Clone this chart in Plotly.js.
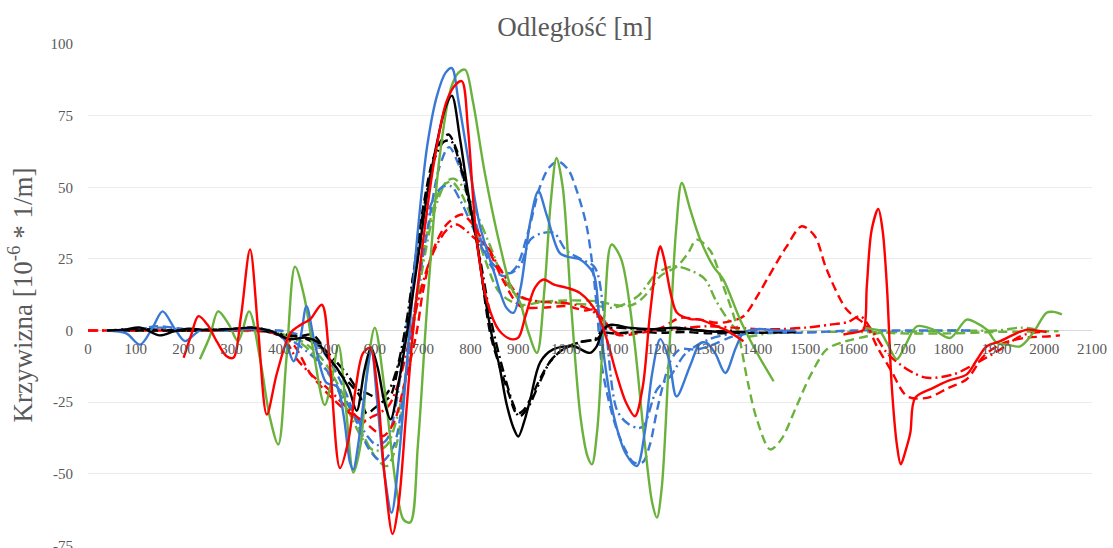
<!DOCTYPE html>
<html>
<head>
<meta charset="utf-8">
<script src="https://cdn.plot.ly/plotly-3.0.1.min.js"></script>
<style>html,body{margin:0;padding:0;background:#fff;}#chart{width:1113px;height:548px;}</style>
</head>
<body>
<div id="chart"></div>
<script>
// ---- tick labels / text ----
const chartTitle = "Odległość [m]";
const yTitle = "Krzywizna [10<sup>-6</sup> * 1/m]";
const yTickVals = [-75, -50, -25, 0, 25, 50, 75, 100];
const yTickText = ['-75', '-50', '-25', '0', '25', '50', '75', '100'];

// ---- black series ----
const x_bk_s = [40, 75, 110, 150, 180, 210, 250, 300, 340, 380, 420, 455, 480, 500, 520, 545, 562, 578, 592, 606, 620, 633, 650, 670, 690, 710, 733, 748, 761, 778, 795, 813, 830, 845, 860, 876, 890, 900, 912, 925, 946, 973, 1015, 1050, 1064, 1078, 1095, 1130, 1180, 1230, 1280, 1330, 1375];
const y_bk_s = [0, 0.3, 1, -1.7, -0.3, 0.6, 0.2, 0.5, 1, 0, -3, -2.5, -4, -9, -13, -20, -28, -14, -6, -13, -25, -31, -18, 2, 25, 48, 68, 78, 82, 67, 48, 31, 12, -2, -12, -26, -34, -37, -32, -24, -11, -6.6, -5.5, -7.8, -5.5, 0.5, 2, 1, 0.5, 1, 0, -0.5, -0.5];

const x_bk_d = [40, 100, 200, 300, 350, 400, 440, 470, 500, 527, 550, 569, 583, 600, 615, 632, 650, 667, 681, 701, 722, 740, 754, 771, 792, 813, 841, 860, 880, 897, 910, 925, 945, 966, 990, 1022, 1050, 1064, 1077, 1100, 1150, 1200, 1250, 1300, 1350, 1400, 1480];
const y_bk_d = [0, 0, 0, 0.5, 0.5, -1.5, -2, -1.5, -8, -15, -19, -23, -29, -27, -25, -23, -12, -0.8, 20, 43, 60, 66.6, 68.4, 63, 49, 31.7, -0.8, -12, -22, -29, -28, -24, -17, -11, -7, -4.3, -3.5, -3.1, -0.8, -1, -0.5, -0.8, -0.5, -1, -0.8, -0.8, -0.5];

const x_bk_dd = [40, 100, 200, 300, 350, 400, 450, 490, 520, 545, 565, 585, 605, 625, 645, 665, 685, 705, 725, 745, 760, 778, 800, 820, 845, 870, 890, 902, 920, 945, 970, 1000, 1030, 1060, 1078, 1100, 1150, 1200, 1250, 1300, 1350];
const y_bk_dd = [0, 0.5, 0, 0.5, 1, -1, -2.5, -6, -11, -16, -20.6, -22, -23.5, -22, -14, 2, 25, 45, 60, 66, 66, 58, 42, 25, 2, -15, -26, -30, -27, -18, -10, -6, -4, -3, 0.5, 1, 0.5, 0, 0.5, -0.3, 0];

// ---- blue series ----
const x_bl_s = [40, 80, 109, 135, 156, 180, 203, 234, 280, 330, 380, 410, 430, 445, 457, 475, 499, 520, 535, 548, 555, 565, 580, 593, 605, 620, 635, 650, 670, 690, 710, 730, 748, 761, 775, 800, 820, 850, 875, 890, 905, 925, 942, 960, 987, 1010, 1029, 1057, 1068, 1080, 1100, 1125, 1148, 1165, 1180, 1197, 1215, 1231, 1260, 1280, 1294, 1312, 1333, 1355, 1371, 1400, 1440, 1480];
const y_bl_s = [0, -1, -4.9, 1, 6.7, 1, -3.7, 0, 0, 0.5, 0, -3, -10.7, -2, 8.5, -5, -18.3, -19.4, -30, -46, -48.5, -40, -20, -7.2, -25, -50, -63.6, -45, -5, 35, 65, 82, 90, 91.6, 80, 55, 36.4, 20, 8, 6.2, 15, 38, 48.6, 40, 27, 25.5, 24.8, 20, 7, -10, -30, -43, -47.3, -35, -15, -3, -10, -23, -12, -4.5, -4.3, -8, -14.8, -6, -0.8, 0.5, 0, 0];

const x_bl_d = [40, 100, 151, 200, 300, 400, 450, 480, 510, 540, 565, 590, 615, 640, 665, 690, 715, 735, 755, 775, 800, 825, 845, 870, 895, 920, 945, 965, 984, 1005, 1022, 1043, 1057, 1064, 1075, 1090, 1106, 1125, 1141, 1160, 1175, 1190, 1204, 1220, 1238, 1273, 1308, 1350, 1400, 1490, 1600, 1700, 1845];
const y_bl_d = [0, 0.5, 1.5, 0.5, 0, 0, -2, -5, -12, -22, -33, -42, -45.6, -40, -15, 15, 40, 57, 64, 58, 44, 30, 22, 19, 22, 34, 50, 57, 59, 56, 49, 36.4, 20, 8.5, -12.4, -25, -34.5, -42, -46, -46, -40, -28, -18.3, -10, -6.6, -6.6, -4.9, -2, -0.8, -0.8, 0, 0, 0];

const x_bl_dd = [60, 150, 250, 350, 420, 470, 500, 530, 560, 585, 604, 625, 645, 665, 690, 715, 740, 760, 780, 805, 830, 855, 883, 905, 925, 950, 975, 1000, 1030, 1060, 1080, 1106, 1127, 1150, 1162, 1190, 1218, 1250, 1300, 1350, 1400];
const y_bl_dd = [0, 1, 0, 0.5, -3, -9, -14, -22, -30, -37, -40, -38, -25, 0, 25, 43, 50, 50.3, 45, 36, 27, 22, 20, 23, 31.7, 34, 34, 28, 25, 22, 5, -27.6, -32.2, -34, -33.4, -20.6, -16, -8, -3, -1, 0];

// ---- green series ----
const x_gr_s1 = [234, 255, 272, 295, 314, 337, 360, 380, 398, 415, 433, 452, 471, 495, 510, 524, 540, 555, 570, 585, 600, 620, 645, 660, 674, 690, 710, 735, 760, 775, 789, 805, 830, 862, 885, 904, 920, 939, 955, 968, 980, 993, 1010, 1030, 1045, 1054, 1065, 1080, 1095, 1115, 1140, 1165, 1180, 1190, 1200, 1215, 1230, 1242, 1260, 1280, 1308, 1329, 1364, 1400, 1434];
const y_gr_s1 = [-10, -2, 6.7, 2, -3.7, 6.7, -10, -30, -39.8, -10, 22.3, 12, -6.7, -26, -17, -5, -28, -49.6, -40, -12, 1, -20, -55, -66, -67, -40, 10, 60, 85, 90, 91, 80, 55, 29.4, 15, 9.7, 0, -7.8, 15, 45, 60.2, 50, 10, -30, -44, -46.7, -35, 5, 30, 25, 0, -40, -60, -65.3, -55, -10, 35, 51.5, 42, 32, 22.4, 17.8, 3.8, -8, -17.7];

const x_gr_s2 = [1620, 1640, 1655, 1671, 1692, 1710, 1734, 1768, 1803, 1838, 1860, 1880, 1901, 1925, 1950, 1977, 2005, 2020, 2037];
const y_gr_s2 = [1, 0.5, 0, -4.3, -10, -5, 1.5, 0.3, -2.6, 3.8, 2.5, 0.3, -4.3, -5, -5.5, -0.8, 6.2, 6.5, 5.6];

const x_gr_d = [200, 300, 400, 450, 490, 520, 550, 580, 605, 625, 645, 665, 690, 715, 740, 760, 780, 805, 830, 862, 904, 950, 1000, 1064, 1100, 1127, 1148, 1175, 1197, 1232, 1255, 1273, 1301, 1330, 1357, 1380, 1399, 1427, 1450, 1482, 1510, 1545, 1580, 1629, 1657, 1700, 1800, 1900, 2000, 2030];
const y_gr_d = [0, 0, -1, -4, -10, -18, -28, -38, -45, -47.3, -40, -15, 15, 38, 50, 52, 48, 38, 25, 13, 9, 10, 10.5, 10.2, 9, 8.5, 9.7, 14, 19, 22.4, 27, 31.7, 28, 15, 1.5, -18, -31, -41.5, -38, -26.4, -16, -6.6, -4, -2, -0.8, -1, -1, -0.5, -0.3, -0.2];

const x_gr_dd = [200, 300, 400, 450, 490, 520, 550, 575, 600, 625, 650, 675, 700, 725, 750, 765, 785, 810, 840, 870, 900, 950, 1000, 1050, 1100, 1150, 1190, 1225, 1260, 1290, 1315, 1350, 1380, 1420, 1500, 1600, 1700, 1800, 1900, 1950, 1980];
const y_gr_dd = [0, 0.5, -1, -5, -12, -20, -30, -38, -42, -40, -28, -5, 22, 42, 52, 53, 50, 42, 30, 18, 12, 10, 9.5, 9, 8, 12, 20, 22.4, 21, 18, 10, 1.5, -2, -1, -0.5, -0.5, -0.5, 0, 0, 1, 0.5];

// ---- red series ----
const x_rd_s1 = [200, 215, 231, 250, 270, 290, 304, 320, 339, 356, 374, 395, 423, 445, 465, 489, 505, 527, 545, 560, 575, 590, 605, 620, 637, 650, 665, 680, 700, 725, 750, 770, 782, 795, 813, 835, 860, 885, 900, 915, 935, 953, 975, 1000, 1029, 1064, 1085, 1105, 1125, 1144, 1160, 1175, 1190, 1197, 1205, 1220, 1232, 1260, 1280, 1315, 1333, 1371];
const y_rd_s1 = [-9.5, -2, 5, 2, -4, -9, -9.5, 5, 28.3, 0, -29.3, -15, -1, 2, 4, 9, -10, -48, -38, -20, -8, -6, -20, -50, -71, -60, -30, 0, 30, 60, 80, 86, 87, 70, 31.7, 10, 0, -3, -2.5, 5, 15, 17.8, 16, 15, 13.1, 6.3, -3, -15, -25, -29.9, -20, 5, 25, 29.4, 25, 12, 6.2, 4, 3.8, 1.5, 0.3, -3.7];

const x_rd_s2 = [1580, 1610, 1622, 1629, 1639, 1653, 1662, 1671, 1681, 1692, 1700, 1710, 1720, 1730, 1768, 1800, 1838, 1860, 1880, 1908, 1935, 1964, 1992, 2005];
const y_rd_s2 = [-1.4, -0.5, 0.3, 15.5, 35, 42.4, 35, 15.5, -19, -40, -46.7, -42, -35.7, -23.5, -20, -17.5, -15.3, -10, -5.5, -3.7, -1.5, 0.3, -0.2, -0.5];

const x_rd_d = [0, 100, 200, 300, 350, 400, 430, 464, 490, 513, 540, 560, 579, 600, 618, 640, 660, 687, 701, 722, 750, 782, 800, 820, 841, 870, 904, 950, 1001, 1040, 1057, 1078, 1106, 1150, 1200, 1238, 1280, 1315, 1343, 1371, 1400, 1420, 1460, 1493, 1520, 1545, 1587, 1629, 1650, 1680, 1713, 1755, 1800, 1838, 1873, 1908, 1957, 2013, 2033];
const y_rd_d = [0, 0, 0, 0, 0, -1.5, -5, -14.8, -20, -24, -28, -30, -32, -35, -36.8, -32, -20, -1, 14, 28, 37, 40.5, 38, 33, 27, 17, 8.5, 8, 8.5, 7, 7.3, 3.8, -1.4, -1, 1, 4.4, 3.8, 2.7, 3.2, 5, 12, 17.8, 29, 36.4, 33, 21.3, 7.3, 1.5, -5.5, -14, -22.9, -23.5, -20, -17, -9, -4.9, -2.6, -2, -1.7];

const x_rd_dd = [0, 100, 200, 300, 370, 410, 437, 471, 500, 530, 555, 576, 595, 611, 630, 650, 670, 690, 710, 730, 750, 771, 790, 810, 834, 860, 904, 950, 994, 1040, 1070, 1090, 1110, 1150, 1200, 1250, 1300, 1350, 1400, 1450, 1500, 1550, 1590, 1615, 1640, 1671, 1700, 1727, 1755, 1810, 1859, 1908, 1950, 1977, 2000];
const y_rd_dd = [0, 0, 0, 0, 0, -3, -10, -16, -20, -25, -29, -31.6, -30, -28.7, -26, -18, -5, 10, 22, 30, 35, 37, 35, 32, 29.4, 22, 12, 10, 9.7, 8, 5, 1, -1, -0.5, 0.5, 1, 1.5, 1, 0.5, 0.5, 1, 2, 3, 5, 0, -7.8, -12, -14.8, -16.5, -15.3, -11.3, -6.6, -2, -0.8, -0.5];

// ---- styles ----
const C_BLACK = '#000000', C_BLUE = '#3a78d6', C_GREEN = '#6ab23c', C_RED = '#ff0000';
const DASH = '9px,5px', DASHDOT = '10px,4px,2px,4px';
const W = 2.4;

function tr(x, y, color, dash) {
  return {x: x, y: y, type: 'scatter', mode: 'lines',
    line: {color: color, width: W, dash: dash, shape: 'spline', smoothing: 0.9},
    hoverinfo: 'skip', showlegend: false};
}

const data = [
  tr(x_gr_d, y_gr_d, C_GREEN, DASH),
  tr(x_gr_dd, y_gr_dd, C_GREEN, DASHDOT),
  tr(x_bl_d, y_bl_d, C_BLUE, DASH),
  tr(x_bl_dd, y_bl_dd, C_BLUE, DASHDOT),
  tr(x_rd_d, y_rd_d, C_RED, DASH),
  tr(x_rd_dd, y_rd_dd, C_RED, DASHDOT),
  tr(x_bk_d, y_bk_d, C_BLACK, DASH),
  tr(x_bk_dd, y_bk_dd, C_BLACK, DASHDOT),
  tr(x_gr_s1, y_gr_s1, C_GREEN, 'solid'),
  tr(x_gr_s2, y_gr_s2, C_GREEN, 'solid'),
  tr(x_bl_s, y_bl_s, C_BLUE, 'solid'),
  tr(x_bk_s, y_bk_s, C_BLACK, 'solid'),
  tr(x_rd_s1, y_rd_s1, C_RED, 'solid'),
  tr(x_rd_s2, y_rd_s2, C_RED, 'solid')
];

const FONT = 'Liberation Serif';
const GRAY = '#595959';

const layout = {
  width: 1113, height: 548,
  margin: {l: 88, r: 21, t: 44, b: 2, pad: 0},
  paper_bgcolor: '#ffffff', plot_bgcolor: '#ffffff',
  showlegend: false, hovermode: false,
  title: {text: chartTitle, font: {family: FONT, size: 27, color: GRAY},
          x: 0.5166, xref: 'container', xanchor: 'center',
          y: 0.951, yref: 'container', yanchor: 'middle'},
  xaxis: {range: [0, 2100], tick0: 0, dtick: 100, showgrid: false, zeroline: false,
          showline: false, ticks: '', anchor: 'free', position: 75.2/175.2,
          tickfont: {family: FONT, size: 15, color: GRAY}, ticklabelstandoff: 7,
          fixedrange: true},
  yaxis: {range: [-75.2, 100], tickmode: 'array', tickvals: yTickVals, ticktext: yTickText,
          showgrid: true, gridcolor: '#ececec', gridwidth: 1,
          zeroline: true, zerolinecolor: '#d9d9d9', zerolinewidth: 1, showline: false, ticks: '',
          tickfont: {family: FONT, size: 15, color: GRAY}, ticklabelstandoff: 14,
          ticklabeloverflow: 'allow',
          title: {text: yTitle, font: {family: FONT, size: 27, color: GRAY}, standoff: 10},
          fixedrange: true}
};

Plotly.newPlot('chart', data, layout, {displayModeBar: false, staticPlot: true});
</script>
</body>
</html>
